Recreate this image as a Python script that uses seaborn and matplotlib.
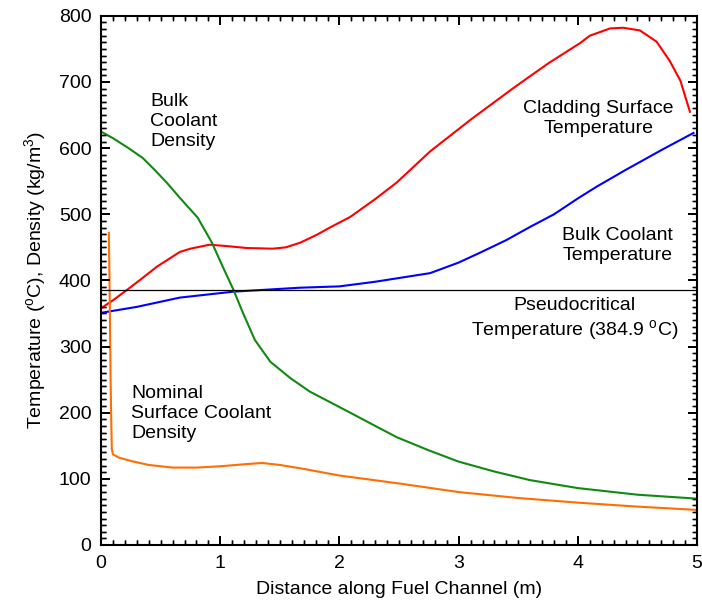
import pandas as pd
import matplotlib
matplotlib.use('Agg')
import matplotlib.pyplot as plt
import seaborn as sns
from matplotlib.ticker import MultipleLocator

# Cladding surface temperature (red)
x_clad = [0, 0.1, 0.22, 0.35, 0.47, 0.6, 0.66, 0.75, 0.91, 1.05, 1.22, 1.44, 1.55, 1.67, 1.81, 1.92,
          2.09, 2.3, 2.48, 2.76, 3.1, 3.46, 3.75, 4.02, 4.1, 4.27, 4.38, 4.52, 4.66, 4.77, 4.86, 4.94]
t_clad = [358, 370, 386, 404, 421, 436, 443, 448, 454, 452, 449, 448, 450, 457, 469, 480,
          496, 523, 548, 595, 643, 691, 728, 759, 770, 781, 782, 778, 761, 732, 702, 655]

# Bulk coolant temperature (blue)
x_bulk_t = [0, 0.3, 0.66, 1.11, 1.67, 2.0, 2.3, 2.76, 3.0, 3.18, 3.4, 3.6, 3.8, 4.0, 4.16, 4.4, 4.71, 4.97]
t_bulk = [351, 360, 374, 383, 389, 391, 398, 411, 427, 442, 461, 481, 500, 524, 542, 567, 598, 623]

# Bulk coolant density (green)
x_bulk_d = [0, 0.1, 0.23, 0.35, 0.45, 0.55, 0.66, 0.81, 0.93, 1.02, 1.11, 1.19, 1.29, 1.42, 1.59, 1.75, 1.92,
            2.09, 2.3, 2.48, 2.75, 3.0, 3.3, 3.6, 4.0, 4.5, 5.0]
d_bulk = [625, 615, 600, 585, 567, 548, 525, 495, 457, 421, 386, 351, 310, 277, 252, 232, 216,
          200, 180, 163, 143, 126, 111, 98, 86, 76, 70]

# Nominal surface coolant density (orange)
x_surf_d = [0.065, 0.07, 0.075, 0.08, 0.085, 0.09, 0.1, 0.15, 0.25, 0.4, 0.6, 0.8, 1.0, 1.2, 1.35, 1.5,
            1.7, 2.0, 2.5, 3.0, 3.5, 4.0, 4.5, 5.0]
d_surf = [472, 410, 330, 250, 190, 145, 137, 132, 127, 121, 117, 117, 119, 122, 124, 121,
          115, 105, 93, 80, 71, 64, 58, 53]

t_pseudo = 384.9

fs = 14
plt.rcParams['font.family'] = ['Liberation Sans', 'DejaVu Sans']
plt.rcParams['mathtext.fontset'] = 'custom'
plt.rcParams['mathtext.rm'] = 'Liberation Sans'
plt.rcParams['mathtext.it'] = 'Liberation Sans:italic'
plt.rcParams.update({
    'xtick.direction': 'in', 'ytick.direction': 'in',
    'xtick.top': True, 'ytick.right': True,
    'xtick.major.size': 6.5, 'ytick.major.size': 6.5,
    'xtick.minor.size': 3.3, 'ytick.minor.size': 3.3,
    'xtick.major.width': 1.3, 'ytick.major.width': 1.3,
    'xtick.minor.width': 1.0, 'ytick.minor.width': 1.0,
    'xtick.major.pad': 7, 'ytick.major.pad': 7,
    'xtick.labelsize': fs, 'ytick.labelsize': fs,
    'axes.linewidth': 1.5,
})

fig, ax = plt.subplots(figsize=(7.02, 6.10), dpi=100)
fig.subplots_adjust(left=0.144, right=0.993, bottom=0.1066, top=0.974)

series = [
    (x_clad, t_clad, '#ff0000'),
    (x_bulk_t, t_bulk, '#0000ff'),
    (x_bulk_d, d_bulk, '#108a10'),
    (x_surf_d, d_surf, '#ff6e00'),
]
for xs, ys, col in series:
    sns.lineplot(x=xs, y=ys, ax=ax, color=col, linewidth=1.5, estimator=None, sort=False)

ax.axhline(t_pseudo, color='black', linewidth=0.9)

ax.set_xlim(0, 5)
ax.set_ylim(0, 800)
ax.xaxis.set_major_locator(MultipleLocator(1))
ax.xaxis.set_minor_locator(MultipleLocator(0.1))
ax.yaxis.set_major_locator(MultipleLocator(100))
ax.yaxis.set_minor_locator(MultipleLocator(10))
ax.tick_params(which='both', direction='in', top=True, right=True, color='black')

# inward tick marks on all four sides, taken from the axis locators
xt_maj = ax.xaxis.get_majorticklocs()
xt_min = ax.xaxis.get_minorticklocs()
yt_maj = ax.yaxis.get_majorticklocs()
yt_min = ax.yaxis.get_minorticklocs()
xtr = ax.get_xaxis_transform()
ytr = ax.get_yaxis_transform()
for locs, ln, lw in [(xt_maj, 0.017, 1.3), (xt_min, 0.0085, 1.0)]:
    ax.vlines(locs, 0, ln, transform=xtr, color='black', linewidth=lw, zorder=3)
    ax.vlines(locs, 1 - ln, 1, transform=xtr, color='black', linewidth=lw, zorder=3)
for locs, ln, lw in [(yt_maj, 0.015, 1.3), (yt_min, 0.0075, 1.0)]:
    ax.hlines(locs, 0, ln, transform=ytr, color='black', linewidth=lw, zorder=3)
    ax.hlines(locs, 1 - ln, 1, transform=ytr, color='black', linewidth=lw, zorder=3)
ax.set_xlim(0, 5)
ax.set_ylim(0, 800)

ax.set_xlabel('Distance along Fuel Channel (m)', fontsize=fs, labelpad=7)
ax.set_ylabel(r'Temperature ($^{\rm o}$C), Density (kg/m$^3$)', fontsize=fs, labelpad=8)

ls = 1.25
ax.text(0.41, 684, 'Bulk\nCoolant\nDensity', fontsize=fs, ha='left', va='top', linespacing=ls)
ax.text(4.17, 673, 'Cladding Surface\nTemperature', fontsize=fs, ha='center', va='top',
        multialignment='center', linespacing=ls)
ax.text(4.33, 481, 'Bulk Coolant\nTemperature', fontsize=fs, ha='center', va='top',
        multialignment='center', linespacing=ls)
ax.text(3.97, 375, 'Pseudocritical\nTemperature (384.9 $^{\\rm o}$C)', fontsize=fs,
        ha='center', va='top', multialignment='center', linespacing=ls)
ax.text(0.25, 242, 'Nominal\nSurface Coolant\nDensity', fontsize=fs, ha='left', va='top',
        linespacing=ls)

fig.savefig('out.png', dpi=100)
